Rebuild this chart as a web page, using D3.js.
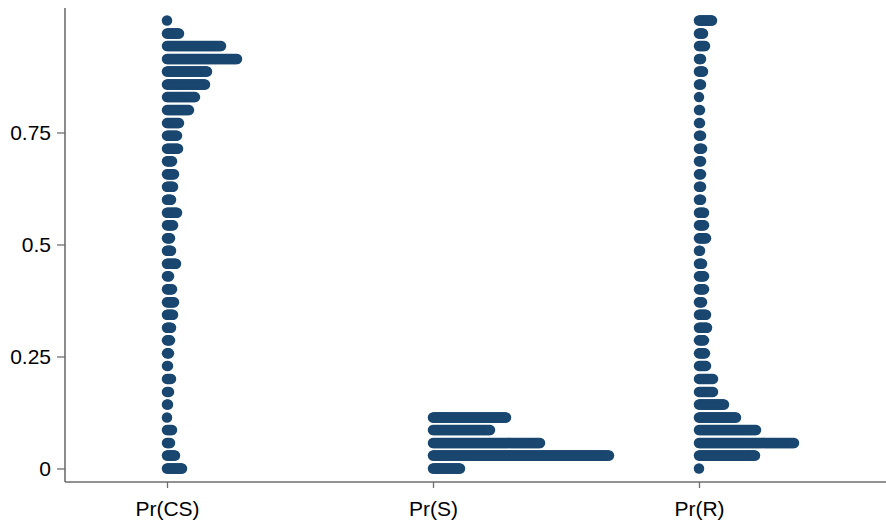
<!DOCTYPE html>
<html>
<head>
<meta charset="utf-8">
<script src="https://cdn.jsdelivr.net/npm/d3@7/dist/d3.min.js"></script>
<style>
  body { margin: 0; background: #fff; }
  text { font-family: "Liberation Sans", Arial, Helvetica, sans-serif; }
</style>
</head>
<body>
<svg id="dotSvg"></svg>
<script>
// categories on the x axis
var categories = ["Pr(CS)", "Pr(S)", "Pr(R)"];

// bin midpoints (bottom to top)
var binValues = [0, 0.029, 0.057, 0.086, 0.114, 0.143, 0.171, 0.2, 0.229, 0.257,
  0.286, 0.314, 0.343, 0.371, 0.4, 0.429, 0.457, 0.486, 0.514, 0.543,
  0.571, 0.6, 0.629, 0.657, 0.686, 0.714, 0.743, 0.771, 0.8, 0.829,
  0.857, 0.886, 0.914, 0.943, 0.971, 1];

// number of observations in each bin, per variable
var countsCS = [16, 9, 4, 6, 1, 2, 3, 5, 2, 3, 4, 5, 7, 8, 6, 3, 10, 5, 4, 7,
  11, 5, 7, 8, 6, 12, 11, 13, 23, 29, 39, 41, 71, 55, 13, 1];
var countsS = [28, 177, 108, 58, 74];
var countsR = [1, 57, 96, 58, 38, 26, 15, 15, 8, 7, 6, 9, 8, 4, 6, 6, 4, 2, 8, 6,
  6, 3, 3, 3, 3, 4, 3, 2, 2, 1, 3, 5, 3, 7, 5, 14];

// y axis ticks
var yTicks = [0, 0.25, 0.5, 0.75];
var yTickLabels = ["0", "0.25", "0.5", "0.75"];

// layout
var width = 886, height = 522,
  axisX = 65, axisY = 482, axisTop = 8,
  dotR = 5.25, dotStep = 1,
  dotColor = "#1a476f", axisColor = "#6e6e6e";

var svg = d3.select("#dotSvg")
  .attr("width", width)
  .attr("height", height);

var x = d3.scalePoint().domain(categories).range([167, 699]),
    y = d3.scaleLinear().domain([0, 1]).range([468.5, 20.5]);

// y axis
var yAxis = svg.append("g")
  .attr("transform", "translate(" + axisX + ",0)")
  .call(d3.axisLeft(y)
    .tickValues(yTicks)
    .tickFormat(function(d, i) { return yTickLabels[i]; })
    .tickSize(8)
    .tickSizeOuter(0)
    .tickPadding(6));
yAxis.select(".domain").remove();
yAxis.selectAll(".tick line").attr("stroke", axisColor).attr("stroke-width", 1.3);
yAxis.selectAll(".tick text")
  .attr("fill", "#000")
  .style("font-size", "21px");

svg.append("line")
  .attr("x1", axisX).attr("x2", axisX)
  .attr("y1", axisTop).attr("y2", axisY)
  .attr("stroke", axisColor)
  .attr("stroke-width", 1.6);

// x axis
var xAxis = svg.append("g")
  .attr("transform", "translate(0," + axisY + ")")
  .call(d3.axisBottom(x)
    .tickSize(6)
    .tickSizeOuter(0)
    .tickPadding(13));
xAxis.select(".domain").remove();
xAxis.selectAll(".tick line").attr("stroke", axisColor).attr("stroke-width", 1.3);
xAxis.selectAll(".tick text")
  .attr("fill", "#000")
  .style("font-size", "21px");

svg.append("line")
  .attr("x1", axisX).attr("x2", width)
  .attr("y1", axisY).attr("y2", axisY)
  .attr("stroke", axisColor)
  .attr("stroke-width", 1.6);

// build the dots, stacked sideways from each category position
var series = [
  {cat: "Pr(CS)", counts: countsCS},
  {cat: "Pr(S)", counts: countsS},
  {cat: "Pr(R)", counts: countsR}
];

var dots = [];
series.forEach(function(s) {
  s.counts.forEach(function(n, k) {
    for (var i = 0; i < n; i++) {
      dots.push({cat: s.cat, val: binValues[k], idx: i});
    }
  });
});

svg.append("g")
  .selectAll(".dot")
    .data(dots)
  .enter().append("circle")
    .attr("class", "dot")
    .attr("cx", function(d) { return x(d.cat) + d.idx * dotStep; })
    .attr("cy", function(d) { return y(d.val); })
    .attr("r", dotR)
    .style("fill", dotColor);
</script>
</body>
</html>
